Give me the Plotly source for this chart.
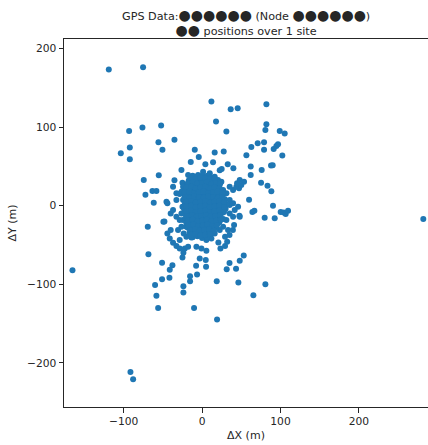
import plotly.graph_objects as go

# Scattered / outlying positions (m)
far_x = [-118.9, -75.2, -165.2, 282, -91.3, -87.9,
         11.9, 36.5, 45.4, 82, 17.8, 31, 82, 80.7, 99, 105.3,
         -93, -76, -52.2, -92.1, -103.6, -92.1, -55.6, -50.5, -35.2,
         -9.3, -4.2, 16.1, 27.6, 56.5, 62.8, 70.9, 79, 79, 91.3, 94.7, 96.8, 102.3,
         -14.4, 4.2, 14, 32.7, 39.9, 22.5, 25, 62, 62, 76, 87.9, 90,
         -26.3, -74.3, -55.2, -35.2, -72.2, -63.3, -58.2, -61.6, -45.4, -44.2, -32.7,
         75.2, 83.4, 88.3, 59.9, 90.4, 53.5, 47.1, 64.1, 66.7, 79.8, 92.6, 100.2, 104, 106.6, 109.6,
         47.6, 40.8, -69.2, -49.3, -48, -68.4, -51, -37.8, -41.2, -51, -41.6, -59.9, -58.2, -56,
         -23.8, -23.8, -15.3, -15.3, -10.2, -7.6, -6.4, -3, 4.7, 5.1, 18.7, 19.1, 5.5,
         31.4, 35, 43.3, 48, 53.1, 46.3, 65.4, 80.7,
         20.8, 23.4, 29.3, 32, 29.3, -25, -23.8]
far_y = [173.2, 176.2, -82, -17, -211.5, -220.8,
         132.5, 122.7, 124, 129, 107, 94.3, 103.6, 96.4, 95, 91.7,
         95, 99.4, 102, 73.9, 66.7, 59, 80.7, 71.3, 84,
         71.3, 62, 67.5, 68.8, 64.1, 74.7, 79.4, 80.7, 71.3, 72.2, 76, 78.1, 63.7,
         55.6, 52.7, 55.2, 52.7, 47.6, 45, 46.7, 49.7, 39, 45.4, 51, 51.4,
         45.4, 32.7, 38.6, 32.3, 14, 18.7, 18.7, 3.8, 5.1, 3, 7.2,
         29.3, 25.5, 18.3, 7.6, 0, 30.6, 22.1, -8.1, -6.4, -15.3, -16.1, -8.1, -8.5, -10.6, -6.4,
         -12.7, -24.6, -26.8, -20.4, -20, -61.6, -72.6, -75.6, -81.5, -93.4, -91.7, -101, -114.6, -130,
         -102.3, -110.4, -96, -89.6, -130, -76.4, -87.5, -67, -69.2, -77.7, -96, -144.8, -57.3,
         -80.7, -73, -80.3, -70, -63.3, -97.7, -113.8, -99.8,
         -46.7, -54.4, -51.4, -45.9, -39.5, -65.8, -59.9]

# Positions around the edge of the main cluster (m)
halo_x = [-25, -32.7, -37, -28.5, -40, -37, -30.6, -44.2, -41.2, -37, -32.7, -28.5, -22, -17.8,
          -28.5, -23.4, -20, -13.6, -7.2, -0.8, 5.5, 11.9, 16.1, 22.5, 26.8, 33.1, 35, 39.3,
          31, 35.2, 41.6, 45.9, 39.5, 35.2, 31, 39.5, 43.7, 50, 44.6, 35.2, 26.8, 22.5, 28.9,
          35.2, 39.5, 48, 24.6, 20.4, 16.1, 9.8, 1.3, -5.1, -11.5, -17.8, -15.7, -20, -24.2,
          -26.3, -24.2, -25, -26.3, -24.2, -20, -26.3, -28.5, -32.7, 48, -40]
halo_y = [29.3, 15.7, 24.2, 14.9, -9.8, -5.5, -31, -35.2, -41.6, -47.1, -51.4, -54.4, -54.4, -52.2,
          -43.7, -35.2, -39.5, -40.3, -52.2, -54.4, -43.7, -41.6, -35.2, -31, -26.8, -31, -37.4, -31,
          -18.3, -9.8, -5.5, -1.3, 3, 7.2, 15.7, 20, 24.2, 26.3, 28.5, 24.2, 20, 11.5, 8.1,
          0.8, -14, -14, 30.6, 32.7, 36.9, 41.2, 43.3, 39, 36.9, 39, 32.7, 26.3, 24.2,
          17.8, 7.2, -1.3, -9.8, -18.3, -26.8, -26.8, -18.3, -14, 32.7, -31]

# Dense core of the cluster (m)
core_x = [-12, -6, 1, 7, 12,
          -17, -11, -5, 2, 8, 14, 19,
          -19, -13, -7, -1, 5, 11, 17, 22,
          -21, -15, -9, -3, 3, 9, 15, 21, 26,
          -22, -16, -10, -4, 2, 8, 14, 20, 25,
          -23, -17, -11, -5, 1, 7, 13, 19, 24, 29,
          -22, -16, -10, -4, 2, 8, 14, 20, 26, 31,
          -23, -17, -11, -5, 1, 7, 13, 19, 25, 30,
          -22, -16, -10, -4, 2, 8, 14, 20, 26,
          -21, -15, -9, -3, 3, 9, 15, 21, 27,
          -20, -14, -8, -2, 4, 10, 16, 22,
          -18, -12, -6, 0, 6, 12, 18,
          -16, -10, -4, 2, 8, 13,
          -12, -6, 0, 6]
core_y = [38, 37, 39, 38, 36,
          32, 33, 31, 32, 33, 31, 30,
          26, 27, 25, 26, 27, 25, 26, 24,
          20, 21, 19, 20, 21, 19, 20, 21, 19,
          14, 13, 15, 14, 13, 15, 14, 13, 14,
          8, 9, 7, 8, 9, 7, 8, 9, 7, 8,
          2, 1, 3, 2, 1, 3, 2, 1, 3, 2,
          -4, -3, -5, -4, -3, -5, -4, -3, -5, -4,
          -10, -11, -9, -10, -11, -9, -10, -11, -9,
          -16, -15, -17, -16, -15, -17, -16, -15, -17,
          -22, -21, -23, -22, -21, -23, -22, -21,
          -28, -29, -27, -28, -29, -27, -28,
          -34, -33, -35, -34, -33, -35,
          -40, -39, -41, -40]

# Further positions inside the dense core (m)
inner_x = [-14, -8, -2, 4, 10, 16,
           -18, -12, -6, 0, 6, 12, 18, 23,
           -20, -14, -8, -2, 4, 10, 16, 22,
           -22, -16, -10, -4, 2, 8, 14, 20, 26,
           -22, -16, -10, -4, 2, 8, 14, 20, 26,
           -20, -14, -8, -2, 4, 10, 16, 22, 28,
           -20, -14, -8, -2, 4, 10, 16, 22, 28,
           -20, -14, -8, -2, 4, 10, 16, 22, 28,
           -19, -13, -7, -1, 5, 11, 17, 23,
           -18, -12, -6, 0, 6, 12, 18, 24,
           -17, -11, -5, 1, 7, 13, 19,
           -15, -9, -3, 3, 9, 15,
           -14, -8, -2, 4, 10]
inner_y = [35, 34, 36, 35, 34, 35,
           29, 30, 28, 29, 30, 28, 29, 28,
           23, 24, 22, 23, 24, 22, 23, 22,
           17, 18, 16, 17, 18, 16, 17, 18, 16,
           11, 10, 12, 11, 10, 12, 11, 10, 11,
           5, 6, 4, 5, 6, 4, 5, 6, 4,
           -1, 0, -2, -1, 0, -2, -1, 0, -2,
           -7, -6, -8, -7, -6, -8, -7, -6, -8,
           -13, -12, -14, -13, -12, -14, -13, -12,
           -19, -18, -20, -19, -18, -20, -19, -18,
           -25, -24, -26, -25, -24, -26, -25,
           -31, -30, -32, -31, -30, -32,
           -37, -36, -38, -37, -36]

xs = far_x + halo_x + core_x + inner_x
ys = far_y + halo_y + core_y + inner_y

font_family = "DejaVu Sans"
ink = "#262626"

blob = lambda n: '<span style="font-size:14px">' + "●" * n + "</span>"
title_text = ("GPS Data:" + blob(6) + " (Node " + blob(6) + ")<br>"
              + blob(2) + " positions over 1 site")

fig = go.Figure(go.Scatter(
    x=xs, y=ys, mode="markers",
    marker=dict(color="#1f77b4", size=6, line=dict(width=0)),
    hoverinfo="skip",
))

fig.update_layout(
    width=428, height=445,
    margin=dict(l=64, r=0, t=39, b=38),
    paper_bgcolor="white", plot_bgcolor="white",
    font=dict(family=font_family, size=11, color=ink),
    showlegend=False,
    annotations=[dict(
        text=title_text, xref="paper", yref="paper",
        x=0.5, y=0.997, xanchor="center", yanchor="bottom",
        showarrow=False, align="center",
        font=dict(family=font_family, size=11.2, color=ink),
    )],
)

fig.update_xaxes(
    range=[-176, 288], tickvals=[-100, 0, 100, 200],
    showgrid=False, zeroline=False,
    showline=True, linecolor=ink, linewidth=1, mirror=True,
    ticks="outside", ticklen=4.5, tickcolor=ink,
    title=dict(text="ΔX (m)", standoff=3, font=dict(size=11)),
    tickfont=dict(size=10.7),
)
fig.update_yaxes(
    range=[-256, 212], tickvals=[-200, -100, 0, 100, 200],
    showgrid=False, zeroline=False,
    showline=True, linecolor=ink, linewidth=1, mirror=False,
    ticks="outside", ticklen=4.5, tickcolor=ink,
    title=dict(text="ΔY (m)", standoff=8, font=dict(size=11)),
    tickfont=dict(size=10.7),
)

fig.write_html(
    "out.html",
    config={"displayModeBar": False},
    post_script="document.body.style.margin='0';document.body.style.overflow='hidden';",
)
